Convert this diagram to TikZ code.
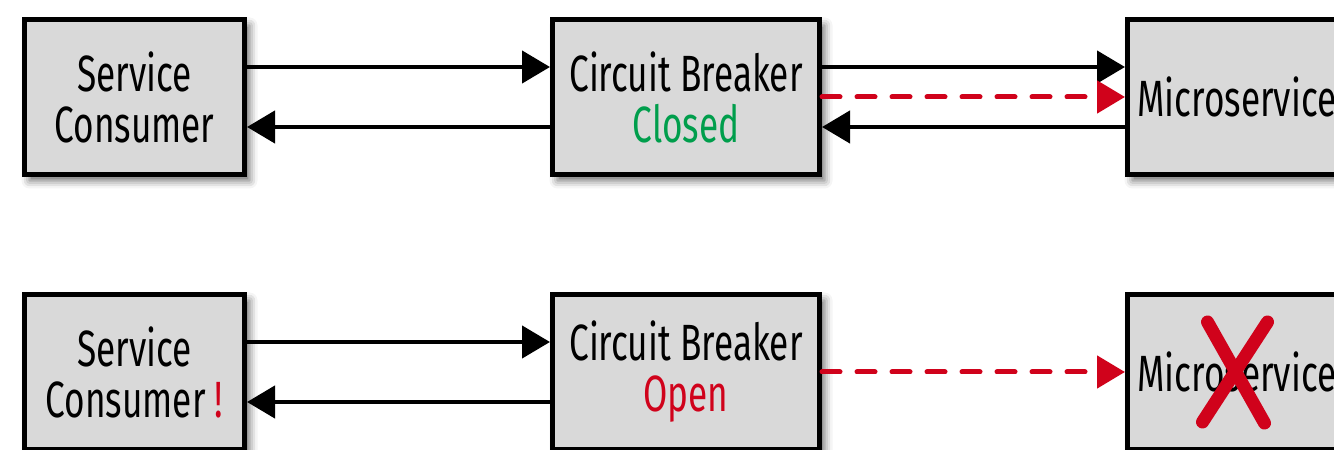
\documentclass[tikz,border=0pt]{standalone}
\usepackage{fontspec}
\usepackage{xcolor}
\usepackage{tikz}
\usetikzlibrary{arrows.meta,positioning,shadows.blur}
\newfontfamily\boksfont{Fira Sans}[FakeStretch=0.69]
\definecolor{boksgraa}{HTML}{D9D9D9}
\definecolor{rod}{HTML}{D0021B}
\definecolor{gronn}{HTML}{009E4C}
\tikzset{
    %Define standard arrow tip
    >={Triangle[length=14pt,width=16pt]},
    %Define style for boxes
    boks/.style={
           rectangle,
           draw=black, line width=2.5pt,
           fill=boksgraa,
           minimum width=110pt,
           minimum height=77.5pt,
           font=\boksfont\fontsize{25.5}{25.5}\selectfont,
           align=center,
           blur shadow={shadow xshift=2.5pt, shadow yshift=-3pt,
                        shadow blur radius=4pt, shadow opacity=60}},
    brytar/.style={
           boks,
           minimum width=133.5pt},
    tjeneste/.style={
           boks,
           align=left,
           text width=125pt,
           inner xsep=5pt},
    % Define arrow style
    pil/.style={
           ->,
           line width=2.2pt},
    rodpil/.style={
           ->,
           rod,
           line width=2.5pt,
           line cap=round,
           dash pattern=on 9pt off 8.5pt},
    kryss/.style={
           rod,
           line width=6.5pt,
           line cap=round}
}
\begin{document}
\begin{tikzpicture}[node distance=151.5pt]
\useasboundingbox (0,0) rectangle (667pt,225pt);
\clip (0,0) rectangle (667pt,225pt);
 %nodes, closed state
\node[boks] (sc1) at (67.25pt,176.5pt) {Service\\Consumer};
\node[brytar, right=of sc1] (cb1) {Circuit Breaker\\\textcolor{gronn}{Closed}};
\node[tjeneste, right=of cb1] (ms1) {Microservice};
 %nodes, open state
\node[boks, below=57.5pt of sc1] (sc2) {Service\\Consumer \textcolor{rod}{!}};
\node[brytar, right=of sc2] (cb2) {Circuit Breaker\\\textcolor{rod}{Open}};
\node[tjeneste, right=of cb2] (ms2) {Microservice};
 %arrows
\draw[pil] ([yshift=15pt]sc1.east) -- ([yshift=15pt]cb1.west);
\draw[pil] ([yshift=-15pt]cb1.west) -- ([yshift=-15pt]sc1.east);
\draw[pil] ([yshift=15pt]cb1.east) -- ([yshift=15pt]ms1.west);
\draw[pil] ([yshift=-15pt]ms1.west) -- ([yshift=-15pt]cb1.east);
\draw[rodpil] (cb1.east) -- (ms1.west);
\draw[pil] ([yshift=15pt]sc2.east) -- ([yshift=15pt]cb2.west);
\draw[pil] ([yshift=-15pt]cb2.west) -- ([yshift=-15pt]sc2.east);
\draw[rodpil] (cb2.east) -- (ms2.west);
 %cross over the failed service
\draw[kryss] ([shift={(41.25pt,25pt)}]ms2.west) -- ([shift={(69.75pt,-25.5pt)}]ms2.west);
\draw[kryss] ([shift={(71.25pt,25pt)}]ms2.west) -- ([shift={(38.75pt,-25pt)}]ms2.west);
\end{tikzpicture}
\end{document}
